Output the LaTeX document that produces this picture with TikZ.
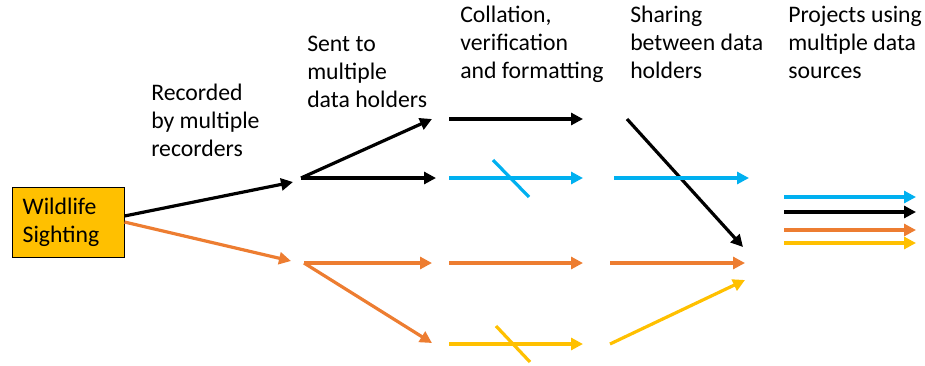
\documentclass[tikz,border=0pt]{standalone}
\usepackage{fontspec}
\setmainfont{Carlito}
\usepackage{xcolor}
\usepackage{tikz}
\usetikzlibrary{arrows.meta, positioning}

\definecolor{sightblue}{HTML}{00B0F0}
\definecolor{sightorange}{HTML}{ED7D31}
\definecolor{sightyellow}{HTML}{FFC000}

\begin{document}
\begin{tikzpicture}[x=0.75pt, y=-0.75pt,
    flow/.style={line width=2.4pt, -{Triangle[length=9pt,width=9pt]}},
    strike/.style={line width=2.4pt},
    stage/.style={anchor=base west, align=left, inner sep=0pt,
        font=\fontsize{17.8}{21}\selectfont}]

\useasboundingbox (0,0) rectangle (925,365);

\node[draw, fill=sightyellow, line width=0.75pt,
    minimum width=84pt, minimum height=52.5pt,
    text width=68pt, align=left,
    font=\fontsize{17.8}{21}\selectfont] at (68,222) (sighting) {Wildlife\\Sighting};

% stage headings
\node[stage] at (151,156) (recorded) {Recorded\\by multiple\\recorders};
\node[stage] at (307,107) (sent) {Sent to\\multiple\\data holders};
\node[stage] at (460,78) (collation) {Collation,\\verification\\and formatting};
\node[stage] at (630,78) (sharing) {Sharing\\between data\\holders};
\node[stage] at (788,78) (projects) {Projects using\\multiple data\\sources};

% recorders
\coordinate (recblack) at (293,182);
\coordinate (recorange) at (291,261);
\draw[flow] ([yshift=4.5pt]sighting.east) -- (recblack);
\draw[flow, sightorange] (sighting.east) -- (recorange);

% data holders
\coordinate (hubblack) at (301,178);
\coordinate (huborange) at (304,263);
\coordinate (holderA) at (432,119);
\coordinate (holderB) at (436,178);
\coordinate (holderC) at (432,263);
\coordinate (holderD) at (432,343);
\draw[flow] (hubblack) -- (holderA);
\draw[flow] (hubblack) -- (holderB);
\draw[flow, sightorange] (huborange) -- (holderC);
\draw[flow, sightorange] (huborange) -- (holderD);

% collation
\coordinate (colA) at (449,119);
\coordinate (colB) at (449,178);
\coordinate (colC) at (449,263);
\coordinate (colD) at (449,344);
\coordinate (doneA) at (583,119);
\coordinate (doneB) at (583,178);
\coordinate (doneC) at (583,263);
\coordinate (doneD) at (583,344);
\draw[flow] (colA) -- (doneA);
\draw[flow, sightblue] (colB) -- (doneB);
\draw[flow, sightorange] (colC) -- (doneC);
\draw[flow, sightyellow] (colD) -- (doneD);

\coordinate (cutBtop) at (493,160);
\coordinate (cutBbot) at (529,197);
\coordinate (cutDtop) at (496,326);
\coordinate (cutDbot) at (530,362);
\draw[strike, sightblue] (cutBtop) -- (cutBbot);
\draw[strike, sightyellow] (cutDtop) -- (cutDbot);

% sharing
\coordinate (shareA) at (627,119);
\coordinate (shareB) at (614,178);
\coordinate (shareC) at (610,263);
\coordinate (shareD) at (610,344);
\coordinate (sharedA) at (743,247);
\coordinate (sharedB) at (749,178);
\coordinate (sharedC) at (745,263);
\coordinate (sharedD) at (745,280);
\draw[flow] (shareA) -- (sharedA);
\draw[flow, sightblue] (shareB) -- (sharedB);
\draw[flow, sightorange] (shareC) -- (sharedC);
\draw[flow, sightyellow] (shareD) -- (sharedD);

% projects
\coordinate (useA) at (784,197);
\coordinate (useB) at (784,212);
\coordinate (useC) at (784,230);
\coordinate (useD) at (784,243);
\coordinate (usedA) at (916,197);
\coordinate (usedB) at (916,212);
\coordinate (usedC) at (916,230);
\coordinate (usedD) at (916,243);
\draw[flow, sightblue] (useA) -- (usedA);
\draw[flow] (useB) -- (usedB);
\draw[flow, sightorange] (useC) -- (usedC);
\draw[flow, sightyellow] (useD) -- (usedD);

\end{tikzpicture}
\end{document}
